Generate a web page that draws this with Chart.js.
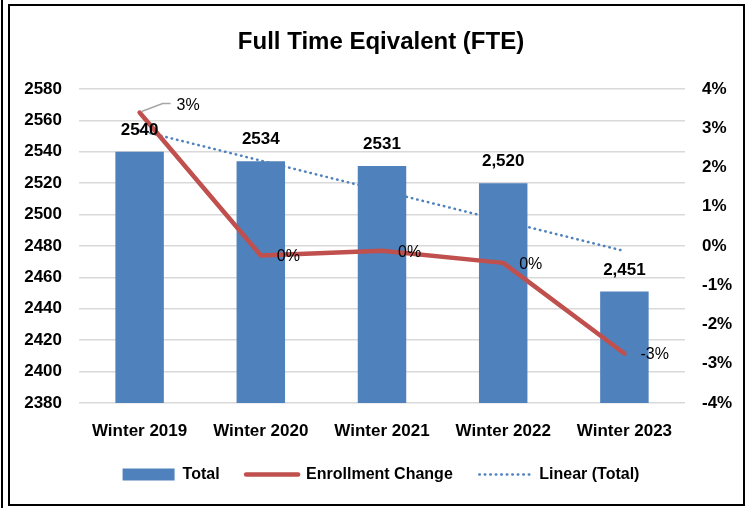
<!DOCTYPE html>
<html>
<head>
<meta charset="utf-8">
<script src="https://cdn.jsdelivr.net/npm/chart.js@4"></script>
<style>
  html, body { margin: 0; padding: 0; background: #fff; }
  #wrap { width: 752px; height: 508px; }
</style>
</head>
<body>
<div id="wrap"><canvas id="fteChart" width="752" height="508"></canvas></div>
<script>
const categories = ['Winter 2019', 'Winter 2020', 'Winter 2021', 'Winter 2022', 'Winter 2023'];
const totals = [2540, 2534, 2531, 2520, 2451];
const totalLabels = ['2540', '2534', '2531', '2,520', '2,451'];
const changePct = [3.4, -0.24, -0.12, -0.43, -2.74];
const changeLabels = ['3%', '0%', '0%', '0%', '-3%'];
const linearTotal = [2553.6, 2534.4, 2515.2, 2496.0, 2476.8];

const FONT = "'Liberation Sans', Arial, sans-serif";
const BLUE = '#4F81BD';
const RED = '#C0504D';
const DOTS = [0.5, 5];

// white page, outer rule and chart frame
const framePlugin = {
    id: 'frame',
    beforeDraw(chart) {
        const c = chart.ctx;
        c.save();
        c.fillStyle = '#fff';
        c.fillRect(0, 0, chart.width, chart.height);
        c.strokeStyle = '#000';
        c.lineWidth = 2;
        c.beginPath();
        c.moveTo(2, 0);
        c.lineTo(2, chart.height);
        c.stroke();
        c.strokeRect(9, 5, 735, 500);
        c.restore();
    },
};

// data labels: totals above bars, % change beside the line points
const labelPlugin = {
    id: 'dataLabels',
    afterDatasetsDraw(chart) {
        const c = chart.ctx;
        c.save();
        c.fillStyle = '#000';
        c.textBaseline = 'middle';

        const bars = chart.getDatasetMeta(0).data;
        c.font = `bold 17px ${FONT}`;
        c.textAlign = 'center';
        bars.forEach((bar, i) => {
            c.fillText(totalLabels[i], bar.x, bar.y - 21.5);
        });

        const pts = chart.getDatasetMeta(1).data;
        c.font = `16px ${FONT}`;
        c.textAlign = 'left';
        pts.forEach((p, i) => {
            if (i === 0) {
                c.strokeStyle = '#A6A6A6';
                c.lineWidth = 1.5;
                c.beginPath();
                c.moveTo(p.x + 2, p.y - 1);
                c.lineTo(p.x + 23, p.y - 9);
                c.lineTo(p.x + 31, p.y - 9);
                c.stroke();
                c.fillText(changeLabels[i], p.x + 37, p.y - 6.5);
            } else {
                c.fillText(changeLabels[i], p.x + 16, p.y + 1.5);
            }
        });
        c.restore();
    },
};

const ctx = document.getElementById('fteChart').getContext('2d');

new Chart(ctx, {
    type: 'bar',
    data: {
        labels: categories,
        datasets: [
            {
                type: 'bar',
                label: 'Total',
                data: totals,
                backgroundColor: BLUE,
                borderWidth: 0,
                barPercentage: 0.4,
                categoryPercentage: 1,
                yAxisID: 'y',
                order: 1,
            },
            {
                type: 'line',
                label: 'Enrollment Change',
                data: changePct,
                borderColor: RED,
                backgroundColor: RED,
                borderWidth: 4.5,
                borderCapStyle: 'round',
                borderJoinStyle: 'round',
                pointRadius: 0,
                tension: 0,
                yAxisID: 'y1',
                order: 0,
            },
            {
                type: 'line',
                label: 'Linear (Total)',
                data: linearTotal,
                borderColor: BLUE,
                backgroundColor: BLUE,
                borderWidth: 2.5,
                borderDash: DOTS,
                borderCapStyle: 'round',
                pointRadius: 0,
                tension: 0,
                yAxisID: 'y',
                order: 2,
            },
        ],
    },
    options: {
        responsive: false,
        animation: false,
        layout: { padding: { top: 6, left: 20, right: 10, bottom: 15.5 } },
        plugins: {
            title: {
                display: true,
                text: 'Full Time Eqivalent (FTE)',
                color: '#000',
                font: { family: FONT, size: 24, weight: 'bold' },
                padding: { top: 22, bottom: 32.2 },
            },
            legend: {
                position: 'bottom',
                labels: {
                    color: '#000',
                    font: { family: FONT, size: 16, weight: 'bold' },
                    usePointStyle: true,
                    pointStyleWidth: 52,
                    boxHeight: 12,
                    padding: 26.5,
                    sort: (a, b) => a.datasetIndex - b.datasetIndex,
                    generateLabels(chart) {
                        const items = Chart.defaults.plugins.legend.labels.generateLabels(chart);
                        items.forEach(it => {
                            const ds = chart.data.datasets[it.datasetIndex];
                            if (ds.type === 'bar') {
                                it.pointStyle = 'rect';
                                it.lineWidth = 0;
                            } else {
                                it.pointStyle = 'line';
                                it.lineWidth = ds.borderWidth;
                                it.lineDash = ds.borderDash || [];
                                it.lineCap = 'round';
                                it.strokeStyle = ds.borderColor;
                            }
                        });
                        return items;
                    },
                },
            },
            tooltip: { enabled: false },
        },
        scales: {
            x: {
                grid: { display: false },
                border: { display: false },
                ticks: {
                    color: '#000',
                    font: { family: FONT, size: 17, weight: 'bold' },
                    padding: 10,
                    maxRotation: 0,
                },
                afterFit(scale) { scale.height = 37; },
            },
            y: {
                position: 'left',
                min: 2380,
                max: 2580,
                grid: { color: '#D9D9D9', lineWidth: 1.5, drawTicks: false },
                border: { display: false },
                ticks: {
                    stepSize: 20,
                    color: '#000',
                    font: { family: FONT, size: 17, weight: 'bold' },
                    padding: 17,
                    callback: v => String(v),
                },
                afterFit(scale) { scale.width = 59; },
            },
            y1: {
                position: 'right',
                min: -4,
                max: 4,
                grid: { display: false, drawTicks: false },
                border: { display: false },
                ticks: {
                    stepSize: 1,
                    color: '#000',
                    font: { family: FONT, size: 17, weight: 'bold' },
                    padding: 17,
                    callback: v => `${v}%`,
                },
                afterFit(scale) { scale.width = 57; },
            },
        },
    },
    plugins: [framePlugin, labelPlugin],
});
</script>
</body>
</html>
